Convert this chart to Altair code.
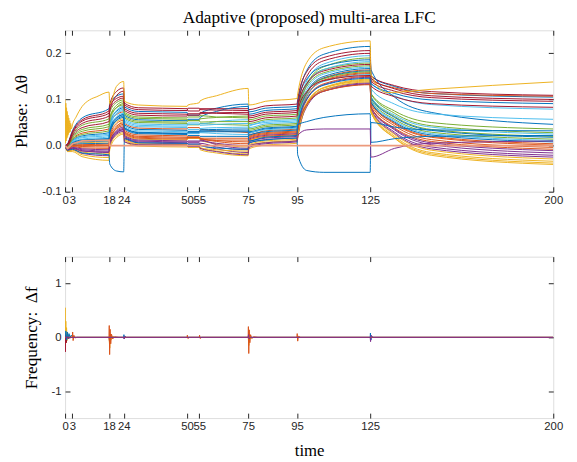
import altair as alt
import pandas as pd

# ---------------- data ----------------
T = [0, 1, 3, 7, 18, 18.3, 21, 24, 24.3, 30, 50, 50.3, 55, 55.3, 62, 75, 75.3, 82,
     95, 95.3, 99, 106, 125, 125.3, 135, 150, 200]

theta_00 = [0.000, 0.004, 0.032, 0.060, 0.080, 0.091, 0.107, 0.112, 0.084, 0.074, 0.072, 0.066, 0.066, 0.070, 0.081, 0.090, 0.073, 0.081, 0.085, 0.095, 0.163, 0.198, 0.215, 0.151, 0.128, 0.113, 0.105]
theta_01 = [0.000, -0.003, 0.014, 0.027, 0.036, 0.049, 0.067, 0.073, 0.048, 0.038, 0.036, 0.039, 0.039, 0.036, 0.032, 0.028, 0.024, 0.032, 0.036, 0.046, 0.113, 0.147, 0.164, 0.142, 0.125, 0.113, 0.107]
theta_02 = [0.000, -0.013, -0.013, -0.024, -0.032, -0.003, 0.039, 0.052, 0.012, 0.002, 0.000, -0.004, -0.004, -0.009, -0.016, -0.022, -0.007, 0.001, 0.005, 0.015, 0.088, 0.126, 0.144, 0.072, 0.016, -0.021, -0.041]
theta_03 = [0.000, -0.011, -0.009, -0.017, -0.022, -0.002, 0.026, 0.034, 0.016, 0.006, 0.004, 0.006, 0.006, 0.002, -0.007, -0.015, -0.004, 0.004, 0.008, 0.018, 0.084, 0.118, 0.134, 0.077, 0.026, -0.007, -0.025]
theta_04 = [0.000, -0.001, 0.018, 0.035, 0.046, 0.061, 0.082, 0.088, 0.060, 0.050, 0.048, 0.045, 0.045, 0.048, 0.046, 0.044, 0.033, 0.041, 0.045, 0.055, 0.132, 0.171, 0.190, 0.112, 0.070, 0.043, 0.028]
theta_05 = [0.000, -0.005, 0.009, 0.017, 0.022, 0.041, 0.068, 0.076, 0.057, 0.047, 0.045, 0.049, 0.049, 0.047, 0.052, 0.056, 0.045, 0.053, 0.057, 0.067, 0.140, 0.177, 0.195, 0.136, 0.108, 0.089, 0.079]
theta_06 = [0.000, 0.003, 0.028, 0.053, 0.070, 0.089, 0.117, 0.125, 0.092, 0.082, 0.080, 0.075, 0.075, 0.080, 0.080, 0.080, 0.078, 0.086, 0.090, 0.100, 0.160, 0.191, 0.206, 0.151, 0.130, 0.117, 0.109]
theta_07 = [0.000, -0.004, 0.011, 0.021, 0.028, 0.047, 0.074, 0.082, 0.066, 0.056, 0.054, 0.057, 0.057, 0.061, 0.074, 0.085, 0.068, 0.076, 0.080, 0.090, 0.144, 0.172, 0.186, 0.165, 0.105, 0.072, 0.046]
theta_08 = [0.000, -0.008, 0.000, 0.000, 0.000, 0.017, 0.042, 0.049, 0.030, 0.020, 0.018, 0.016, 0.016, 0.013, 0.012, 0.012, 0.018, 0.026, 0.030, 0.040, 0.106, 0.140, 0.156, 0.093, 0.047, 0.018, 0.001]
theta_09 = [0.000, -0.007, 0.003, 0.006, 0.008, 0.026, 0.051, 0.058, 0.024, 0.014, 0.012, 0.016, 0.016, 0.012, 0.004, -0.003, 0.010, 0.018, 0.022, 0.032, 0.093, 0.125, 0.140, 0.072, 0.017, -0.018, -0.038]
theta_10 = [0.000, -0.010, -0.006, -0.011, -0.015, 0.001, 0.024, 0.031, 0.018, 0.008, 0.006, 0.003, 0.003, 0.005, -0.003, -0.009, 0.005, 0.013, 0.017, 0.027, 0.088, 0.121, 0.136, 0.079, 0.029, -0.003, -0.021]
theta_11 = [0.000, 0.001, 0.023, 0.044, 0.058, 0.072, 0.093, 0.099, 0.072, 0.062, 0.060, 0.062, 0.062, 0.065, 0.062, 0.060, 0.056, 0.064, 0.068, 0.078, 0.135, 0.165, 0.179, 0.113, 0.075, 0.050, 0.036]
theta_12 = [0.000, -0.006, 0.006, 0.012, 0.016, 0.038, 0.070, 0.079, 0.051, 0.041, 0.039, 0.035, 0.035, 0.037, 0.039, 0.040, 0.042, 0.050, 0.054, 0.064, 0.131, 0.165, 0.182, 0.123, 0.090, 0.069, 0.057]
theta_13 = [0.000, 0.003, 0.030, 0.056, 0.075, 0.086, 0.102, 0.107, 0.088, 0.078, 0.076, 0.081, 0.081, 0.078, 0.077, 0.076, 0.064, 0.072, 0.076, 0.086, 0.150, 0.184, 0.200, 0.146, 0.123, 0.108, 0.100]
theta_14 = [0.000, -0.007, 0.004, 0.008, 0.010, 0.030, 0.058, 0.067, 0.045, 0.035, 0.033, 0.031, 0.031, 0.034, 0.035, 0.036, 0.030, 0.038, 0.042, 0.052, 0.114, 0.146, 0.162, 0.134, 0.113, 0.099, 0.091]
theta_15 = [0.000, -0.009, -0.002, -0.005, -0.006, 0.012, 0.038, 0.046, 0.026, 0.016, 0.014, 0.017, 0.017, 0.015, 0.011, 0.008, 0.016, 0.024, 0.028, 0.038, 0.101, 0.134, 0.150, 0.089, 0.043, 0.013, -0.004]
theta_16 = [0.000, -0.011, -0.007, -0.014, -0.018, -0.002, 0.021, 0.028, 0.014, 0.004, 0.002, -0.002, -0.002, -0.005, -0.009, -0.012, 0.002, 0.010, 0.014, 0.024, 0.091, 0.125, 0.142, 0.074, 0.020, -0.015, -0.034]
theta_17 = [0.000, -0.009, -0.004, -0.007, -0.009, 0.007, 0.030, 0.037, 0.020, 0.010, 0.008, 0.010, 0.010, 0.012, 0.002, -0.006, 0.008, 0.016, 0.020, 0.030, 0.088, 0.118, 0.133, 0.083, 0.036, 0.006, -0.011]
theta_18 = [0.000, -0.002, 0.016, 0.031, 0.041, 0.060, 0.087, 0.095, 0.069, 0.059, 0.057, 0.054, 0.054, 0.058, 0.061, 0.064, 0.048, 0.056, 0.060, 0.070, 0.128, 0.158, 0.173, 0.105, 0.063, 0.035, 0.020]
theta_19 = [0.000, -0.004, 0.010, 0.019, 0.025, 0.046, 0.076, 0.085, 0.054, 0.044, 0.042, 0.046, 0.046, 0.044, 0.046, 0.048, 0.039, 0.047, 0.051, 0.061, 0.122, 0.155, 0.170, 0.106, 0.066, 0.040, 0.025]
theta_20 = [0.000, 0.002, 0.026, 0.048, 0.064, 0.078, 0.097, 0.103, 0.080, 0.070, 0.068, 0.066, 0.066, 0.069, 0.071, 0.072, 0.060, 0.068, 0.072, 0.082, 0.134, 0.162, 0.176, 0.139, 0.118, 0.104, 0.096]
theta_21 = [0.000, -0.007, 0.002, 0.004, 0.005, 0.026, 0.055, 0.064, 0.039, 0.029, 0.027, 0.030, 0.030, 0.032, 0.032, 0.032, 0.028, 0.036, 0.040, 0.050, 0.116, 0.150, 0.167, 0.103, 0.061, 0.033, 0.018]
theta_22 = [0.000, -0.008, 0.001, 0.002, 0.003, 0.021, 0.047, 0.055, 0.033, 0.023, 0.021, 0.018, 0.018, 0.016, 0.016, 0.016, 0.020, 0.028, 0.032, 0.042, 0.108, 0.142, 0.158, 0.094, 0.049, 0.020, 0.004]
theta_23 = [0.000, -0.012, -0.010, -0.020, -0.026, -0.008, 0.017, 0.025, 0.009, -0.001, -0.003, -0.001, -0.001, -0.005, -0.012, -0.018, -0.001, 0.007, 0.011, 0.021, 0.087, 0.121, 0.138, 0.076, 0.024, -0.010, -0.029]
theta_24 = [0.000, -0.010, -0.005, -0.009, -0.012, 0.006, 0.032, 0.040, 0.022, 0.012, 0.010, 0.008, 0.008, 0.010, 0.005, 0.000, 0.014, 0.022, 0.026, 0.036, 0.099, 0.132, 0.148, 0.083, 0.034, 0.002, -0.016]
theta_25 = [0.000, -0.003, 0.013, 0.024, 0.032, 0.053, 0.082, 0.091, 0.063, 0.053, 0.051, 0.054, 0.054, 0.051, 0.052, 0.052, 0.036, 0.044, 0.048, 0.058, 0.115, 0.145, 0.160, 0.099, 0.057, 0.029, 0.014]
theta_26 = [0.000, -0.005, 0.008, 0.014, 0.019, 0.037, 0.062, 0.070, 0.042, 0.032, 0.030, 0.026, 0.026, 0.028, 0.026, 0.024, 0.026, 0.034, 0.038, 0.048, 0.108, 0.139, 0.154, 0.097, 0.054, 0.026, 0.011]
theta_27 = [0.000, 0.000, 0.021, 0.039, 0.052, 0.075, 0.108, 0.118, 0.076, 0.066, 0.064, 0.069, 0.069, 0.072, 0.070, 0.068, 0.052, 0.060, 0.064, 0.074, 0.117, 0.141, 0.152, 0.129, 0.106, 0.091, 0.083]
theta_28 = [0.000, -0.006, 0.005, 0.010, 0.013, 0.030, 0.054, 0.061, 0.036, 0.026, 0.024, 0.022, 0.022, 0.020, 0.020, 0.020, 0.022, 0.030, 0.034, 0.044, 0.101, 0.131, 0.146, 0.094, 0.051, 0.023, 0.008]
theta_29 = [0.000, -0.008, -0.001, -0.002, -0.003, 0.013, 0.036, 0.043, 0.028, 0.018, 0.016, 0.019, 0.019, 0.016, 0.009, 0.004, 0.012, 0.020, 0.024, 0.034, 0.089, 0.118, 0.132, 0.084, 0.038, 0.009, -0.008]

# special curves
theta_blue_low = [0.000, -0.010, -0.008, -0.016, -0.020, -0.040, -0.055, -0.057, 0.015, 0.006, 0.005, 0.003, 0.003, 0.000, -0.005, -0.008, 0.006, 0.012, 0.016, -0.020, -0.054, -0.058, -0.058, 0.050, 0.040, 0.034, 0.032]
theta_blue_mid = [0.000, -0.005, 0.006, 0.012, 0.015, 0.033, 0.060, 0.067, 0.038, 0.028, 0.026, 0.028, 0.028, 0.030, 0.030, 0.030, 0.010, 0.018, 0.022, 0.045, 0.052, 0.061, 0.069, 0.007, 0.015, 0.020, 0.022]
theta_purple_mid = [0.000, -0.009, -0.006, -0.012, -0.014, 0.002, 0.028, 0.035, 0.008, 0.002, 0.001, -0.002, -0.002, -0.006, -0.013, -0.020, 0.000, 0.006, 0.010, 0.022, 0.034, 0.036, 0.036, -0.025, -0.006, 0.005, 0.010]

salmon_t = [0, 1, 3, 7, 18, 18.3, 200]
salmon_v = [0.000, -0.006, 0.004, 0.010, 0.012, 0.000, 0.000]

yellow_t = [0, 0.15, 0.3, 0.45, 0.6, 0.75, 0.9, 1.05, 1.2, 1.35, 1.5, 1.7, 1.9, 2.1, 2.3, 2.6, 3, 4.5,
            7, 10, 13, 18, 18.3, 21, 24, 24.3, 30, 50, 50.3, 55, 55.3, 62, 75, 75.3, 78, 82, 95,
            95.3, 99, 106, 125, 125.3, 132, 150, 200]
yellow_v = [0.100, 0.005, 0.092, 0.010, 0.082, 0.016, 0.074, 0.020, 0.066, 0.024, 0.060, 0.028,
            0.054, 0.030, 0.048, 0.036, 0.045, 0.062, 0.085, 0.099, 0.106, 0.116, 0.090, 0.128,
            0.139, 0.096, 0.088, 0.085, 0.088, 0.093, 0.097, 0.108, 0.124, 0.088, 0.090, 0.096,
            0.102, 0.112, 0.180, 0.212, 0.227, 0.155, 0.115, 0.122, 0.138]

# frequency spikes
fy_t = [0, 0.05, 0.15, 0.3, 0.45, 0.6, 0.8, 1.0, 1.3, 1.6, 2.0, 2.5, 3, 18, 18.1, 18.3, 18.6, 19,
        19.5, 20.5, 75, 75.1, 75.3, 75.6, 76, 77, 200]
fy_v = [0, 0.55, -0.15, 0.3, -0.1, 0.18, -0.06, 0.1, -0.03, 0.05, 0.01, 0.02, 0, 0, -0.05, -0.2,
        0.06, -0.04, 0.02, 0, 0, -0.04, -0.15, 0.05, -0.02, 0, 0]
fo_t = [0, 3, 3.1, 3.3, 3.6, 4, 5, 18, 18.1, 18.25, 18.45, 18.7, 19, 19.5, 20.3, 22, 50, 50.1,
        50.3, 51, 55, 55.1, 55.3, 56, 75, 75.1, 75.25, 75.45, 75.7, 76, 76.5, 77.3, 79, 95, 95.1,
        95.3, 95.6, 96.5, 200]
fo_v = [0, 0, 0.1, -0.06, 0.04, -0.01, 0, 0, 0.22, -0.32, 0.15, -0.12, 0.06, -0.03, 0.01, 0, 0,
        0.04, -0.02, 0, 0, 0.04, -0.02, 0, 0, 0.2, -0.3, 0.14, -0.1, 0.05, -0.02, 0.01, 0, 0,
        0.07, -0.07, 0.02, 0, 0]
fm_t = [0, 0.1, 0.25, 0.5, 0.8, 1.2, 2, 18, 18.2, 18.5, 19, 200]
fm_v = [0, -0.27, 0.05, -0.1, 0.02, -0.02, 0, 0, -0.08, 0.05, 0, 0]
fb_t = [0, 0.3, 0.6, 0.9, 1.2, 1.6, 2.0, 2.5, 3.2, 4, 24, 24.1, 24.3, 24.6, 25, 125, 125.1,
        125.3, 125.6, 126, 200]
fb_v = [0, 0.12, -0.05, 0.1, -0.02, 0.07, 0.0, 0.04, 0.01, 0, 0, 0.05, -0.03, 0.02, 0, 0, 0.08,
        -0.05, 0.02, 0, 0]
fp_t = [0, 24, 24.15, 24.4, 25, 75, 75.15, 75.4, 76, 125, 125.15, 125.4, 126, 200]
fp_v = [0, 0, -0.03, 0.02, 0, 0, 0.05, -0.03, 0, 0, -0.08, 0.04, 0, 0]

x_ticks = [0, 3, 18, 24, 50, 55, 75, 95, 125, 200]
phase_ticks = [-0.1, 0, 0.1, 0.2]
freq_ticks = [-1, 0, 1]

MATLAB = ["#0072BD", "#D95319", "#EDB120", "#7E2F8E", "#77AC30", "#4DBEEE", "#A2142F"]
SALMON = "#EC9A7C"

# ---------------- tables ----------------
main = [theta_00, theta_01, theta_02, theta_03, theta_04, theta_05, theta_06, theta_07,
        theta_08, theta_09, theta_10, theta_11, theta_12, theta_13, theta_14, theta_15,
        theta_16, theta_17, theta_18, theta_19, theta_20, theta_21, theta_22, theta_23,
        theta_24, theta_25, theta_26, theta_27, theta_28, theta_29]

phase_series = []
for i, vals in enumerate(main):
    assert len(vals) == len(T), (i, len(vals))
    phase_series.append((f"a{i:02d}", T, vals, MATLAB[i % 7]))
phase_series += [
    ("b_blue_low", T, theta_blue_low, MATLAB[0]),
    ("c_blue_mid", T, theta_blue_mid, MATLAB[0]),
    ("d_purple_mid", T, theta_purple_mid, MATLAB[3]),
]
phase_salmon = ("e_salmon", salmon_t, salmon_v, SALMON)
phase_yellow = ("f_yellow", yellow_t, yellow_v, MATLAB[2])


def table(series):
    rows = []
    for name, ts, vs, _ in series:
        assert len(ts) == len(vs), name
        for t, v in zip(ts, vs):
            rows.append({"t": t, "v": v, "series": name})
    return pd.DataFrame(rows)


freq_series = [
    ("a_yellow", fy_t, fy_v, MATLAB[2]),
    ("b_maroon", fm_t, fm_v, MATLAB[6]),
    ("c_blue", fb_t, fb_v, MATLAB[0]),
    ("d_orange", fo_t, fo_v, MATLAB[1]),
    ("e_purple", fp_t, fp_v, MATLAB[3]),
]

# ---------------- styling ----------------
SANS = "Liberation Sans"
SERIF = "Liberation Serif"
INK = "#262626"
W, H = 496, 164
TICK = 5
XS = alt.Scale(domain=[0, 200], nice=False, zero=False)
NB = "\u00a0"

neg_label = "datum.value < 0 ? '-' + format(-datum.value, '') : datum.label"


def xaxis(title, orient="bottom", labels=True):
    return alt.Axis(values=x_ticks, orient=orient, offset=-TICK, tickSize=TICK, domain=False,
                    grid=False, labels=labels, labelPadding=3, labelFont=SANS, labelFontSize=11.5,
                    labelColor=INK, tickColor=INK, labelOverlap=False, labelFlush=False,
                    title=title, titleFont=SERIF, titleFontSize=17, titleFontWeight="normal",
                    titleColor="#000000", titlePadding=11)


def yaxis(values, title, orient="left", labels=True):
    return alt.Axis(values=values, orient=orient, offset=-TICK, tickSize=TICK, domain=False,
                    grid=False, labels=labels, labelPadding=4, labelFont=SANS, labelFontSize=11.5,
                    labelColor=INK, tickColor=INK, labelOverlap=False, labelExpr=neg_label,
                    title=title, titleFont=SERIF, titleFontSize=17.5, titleFontWeight="normal",
                    titleColor="#000000", titlePadding=11)


def lines_with_axes(df, color_enc, ys, yvals, ytitle, xtitle, interp):
    return alt.Chart(df).mark_line(strokeWidth=1, interpolate=interp, clip=True).encode(
        x=alt.X("t:Q", scale=XS, axis=xaxis(xtitle)),
        y=alt.Y("v:Q", scale=ys, axis=yaxis(yvals, ytitle)),
        color=color_enc,
        detail="series:N",
        order=alt.Order("t:Q"),
    )


def lines_plain(df, color, interp, width=1.0):
    return alt.Chart(df).mark_line(strokeWidth=width, interpolate=interp, clip=True,
                                   color=color).encode(
        x=alt.X("t:Q", axis=None),
        y=alt.Y("v:Q", axis=None),
        order=alt.Order("t:Q"),
    )


def ghost(ys, yvals):
    return alt.Chart(pd.DataFrame({"t": [0], "v": [0]})).mark_point(opacity=0).encode(
        x=alt.X("t:Q", scale=XS, axis=xaxis(None, orient="top", labels=False)),
        y=alt.Y("v:Q", scale=ys, axis=yaxis(yvals, None, orient="right", labels=False)),
    )


# top panel
YS_P = alt.Scale(domain=[-0.1, 0.25], nice=False, zero=False)
p_names = [s[0] for s in phase_series]
p_cols = [s[3] for s in phase_series]
p_color = alt.Color("series:N", scale=alt.Scale(domain=p_names, range=p_cols), legend=None)
top = alt.layer(
    lines_with_axes(table(phase_series), p_color, YS_P, phase_ticks,
                    "Phase:" + NB + NB + "Δθ", None, "monotone"),
    lines_plain(table([phase_salmon]), phase_salmon[3], "linear", 1.8),
    lines_plain(table([phase_yellow]), phase_yellow[3], "monotone"),
    ghost(YS_P, phase_ticks),
).properties(
    width=W, height=H,
    title=alt.TitleParams("Adaptive (proposed) multi-area LFC", font=SERIF, fontSize=17.5,
                          fontWeight="normal", color="#000000", offset=3))

# bottom panel
YS_F = alt.Scale(domain=[-1.5, 1.5], nice=False, zero=False)
first = freq_series[0]
f_layers = [lines_with_axes(table([first]), alt.value(first[3]), YS_F, freq_ticks,
                            "Frequency:" + NB + NB + "Δf", "time", "linear")]
f_layers += [lines_plain(table([s]), s[3], "linear") for s in freq_series[1:]]
bottom = alt.layer(*f_layers, ghost(YS_F, freq_ticks)).properties(width=W, height=H)

chart = alt.vconcat(top, bottom, spacing=50).properties(
    padding={"left": 4, "top": -3, "right": 5, "bottom": 0}
).configure_view(stroke=INK, strokeWidth=1).configure(background="#ffffff")

chart.save("out.html", embed_options={"renderer": "svg", "actions": False})
